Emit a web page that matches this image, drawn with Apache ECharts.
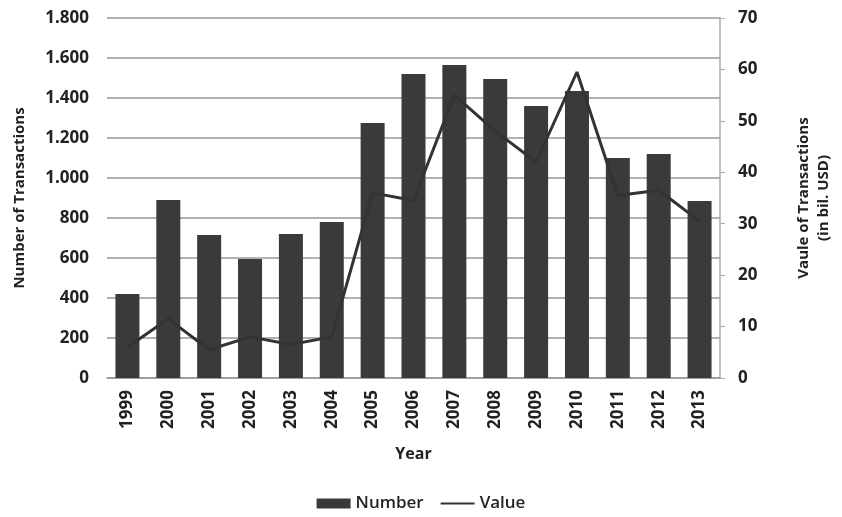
<!DOCTYPE html>
<html>
<head>
<meta charset="utf-8">
<script src="https://cdn.jsdelivr.net/npm/echarts@6/dist/echarts.min.js"></script>
<style>
  html, body { margin: 0; padding: 0; background: #fff; }
  #chart { width: 842px; height: 517px; }
</style>
</head>
<body>
<div id="chart"></div>
<script>
// Yearly M&A transactions: count (bars, left axis) and value in bil. USD (line, right axis)
const years = ['1999', '2000', '2001', '2002', '2003', '2004', '2005', '2006',
               '2007', '2008', '2009', '2010', '2011', '2012', '2013'];
const transactionCounts = [420, 890, 715, 595, 720, 780, 1275, 1520,
                           1565, 1495, 1360, 1435, 1100, 1120, 885];
const transactionValues = [6, 11.5, 5.5, 8, 6.5, 8, 36, 34.5,
                           55, 48, 42, 59.5, 35.5, 36.5, 30.5];

const FONT = '"Open Sans", sans-serif';
const INK = '#222';

// thousands separator shown as a dot, e.g. 1.800
function dotThousands(v) {
  const s = String(Math.round(v));
  return s.replace(/\B(?=(\d{3})+(?!\d))/g, '.');
}

const chart = echarts.init(document.getElementById('chart'), null, { renderer: 'canvas' });

chart.setOption({
  animation: false,
  backgroundColor: '#fff',
  textStyle: { fontFamily: FONT },
  grid: { left: 107, right: 98, top: 18, bottom: 139, containLabel: false },
  legend: {
    bottom: 0,
    left: 'center',
    itemGap: 16,
    itemWidth: 34,
    itemHeight: 10,
    textStyle: { fontFamily: FONT, fontSize: 17, fontWeight: 600, color: INK },
    data: [
      { name: 'Number', icon: 'rect' },
      // plain line swatch: hide the marker dot the line legend adds
      { name: 'Value', itemStyle: { color: 'rgba(0,0,0,0)', borderWidth: 0, opacity: 0 },
        lineStyle: { width: 2 } }
    ]
  },
  xAxis: {
    type: 'category',
    data: years,
    name: 'Year',
    nameLocation: 'middle',
    nameGap: 68,
    nameTextStyle: { fontFamily: FONT, fontSize: 16, fontWeight: 'bold', color: INK },
    axisLine: { lineStyle: { color: '#999', width: 1.5 } },
    axisTick: { show: false },
    axisLabel: { rotate: 90, margin: 12, fontFamily: FONT, fontSize: 17, fontWeight: 'bold', color: INK }
  },
  yAxis: [
    {
      type: 'value',
      min: 0, max: 1800, interval: 200,
      name: 'Number of Transactions',
      nameLocation: 'middle',
      nameRotate: 90,
      nameGap: 80,
      nameTextStyle: { fontFamily: FONT, fontSize: 15, fontWeight: 'bold', color: INK },
      axisLine: { show: false },
      axisTick: { show: false },
      splitLine: { lineStyle: { color: '#999', width: 1.5 } },
      axisLabel: {
        margin: 18, fontFamily: FONT, fontSize: 17, fontWeight: 'bold', color: INK,
        formatter: dotThousands
      }
    },
    {
      type: 'value',
      position: 'right',
      min: 0, max: 70, interval: 10,
      name: 'Vaule of Transactions\n(in bil. USD)',
      nameLocation: 'middle',
      nameRotate: 90,
      nameGap: 74,
      nameTextStyle: { fontFamily: FONT, fontSize: 15, fontWeight: 'bold', color: INK, lineHeight: 20 },
      axisLine: { show: true, lineStyle: { color: '#aaa', width: 1.5 } },
      axisTick: { show: true, length: 5, lineStyle: { color: '#aaa' } },
      splitLine: { show: false },
      axisLabel: { margin: 18, fontFamily: FONT, fontSize: 17, fontWeight: 'bold', color: INK }
    }
  ],
  series: [
    {
      name: 'Number',
      type: 'bar',
      yAxisIndex: 0,
      barWidth: 24,
      itemStyle: { color: '#3a3a3a' },
      data: transactionCounts
    },
    {
      name: 'Value',
      type: 'line',
      yAxisIndex: 1,
      symbol: 'none',
      lineStyle: { color: '#333', width: 3 },
      itemStyle: { color: '#333' },
      data: transactionValues
    }
  ]
});
</script>
</body>
</html>
